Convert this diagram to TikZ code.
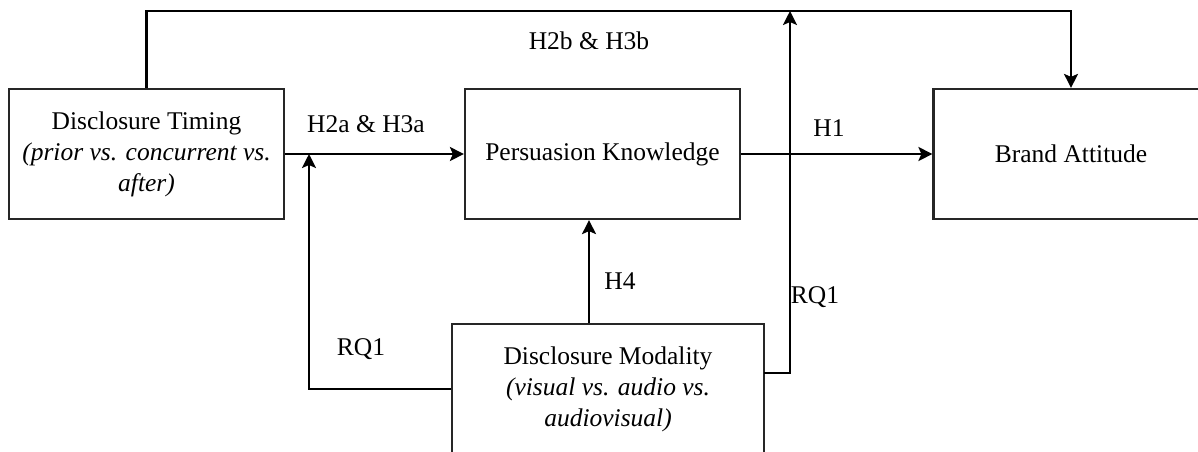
\documentclass[tikz,border=0pt]{standalone}
\usepackage{fontspec}
\setmainfont{Liberation Serif}
\usetikzlibrary{arrows.meta,calc}
\begin{document}
\begin{tikzpicture}[x=1pt,y=-1pt,
  box/.style={draw=black!85,line width=2.2pt,align=center,inner sep=0pt,
    font=\fontsize{25.5}{31}\selectfont},
  arr/.style={line width=2.2pt,-{Stealth[length=14pt,width=14pt,inset=3pt]}},
  lbl/.style={font=\fontsize{25.5}{31}\selectfont,inner sep=0pt}]
\useasboundingbox (0,0) rectangle (1198,451);
\node[box,minimum width=275pt,minimum height=130pt] (T) at (146.5,154)
  {Disclosure Timing\\\textit{(prior vs. concurrent vs.}\\\textit{after)}};
\node[box,minimum width=275pt,minimum height=130pt] (PK) at (602.5,154) {Persuasion Knowledge};
\node[box,minimum width=275pt,minimum height=130pt] (BA) at (1071,154) {Brand Attitude};
\node[box,minimum width=312pt,minimum height=130pt] (M) at (608,389)
  {Disclosure Modality\\\textit{(visual vs. audio vs.}\\\textit{audiovisual)}};
\coordinate (top) at (0,11);
\coordinate (h4x) at (589,0);
\coordinate (j1) at (309,154);
\coordinate (mr) at (764,373);
\coordinate (rx) at (790,0);
% connectors
\draw[arr] (T.north) |- (top -| BA.north) -- (BA.north);
\draw[arr] (T.east) -- (PK.west);
\draw[arr] (PK.east) -- (BA.west);
\draw[arr] (M.north -| h4x) -- (PK.south -| h4x);
\draw[arr] (M.west) -| (j1);
\draw[arr] (mr) -| (top -| rx);
% labels
\node[lbl] (l1) at (589,41) {H2b \& H3b};
\node[lbl] (l2) at (366,124) {H2a \& H3a};
\node[lbl] (l3) at (829,128) {H1};
\node[lbl] (l4) at (620,281) {H4};
\node[lbl] (l5) at (361,349) {RQ1};
\node[lbl] (l6) at (815,297) {RQ1};
\end{tikzpicture}
\end{document}
